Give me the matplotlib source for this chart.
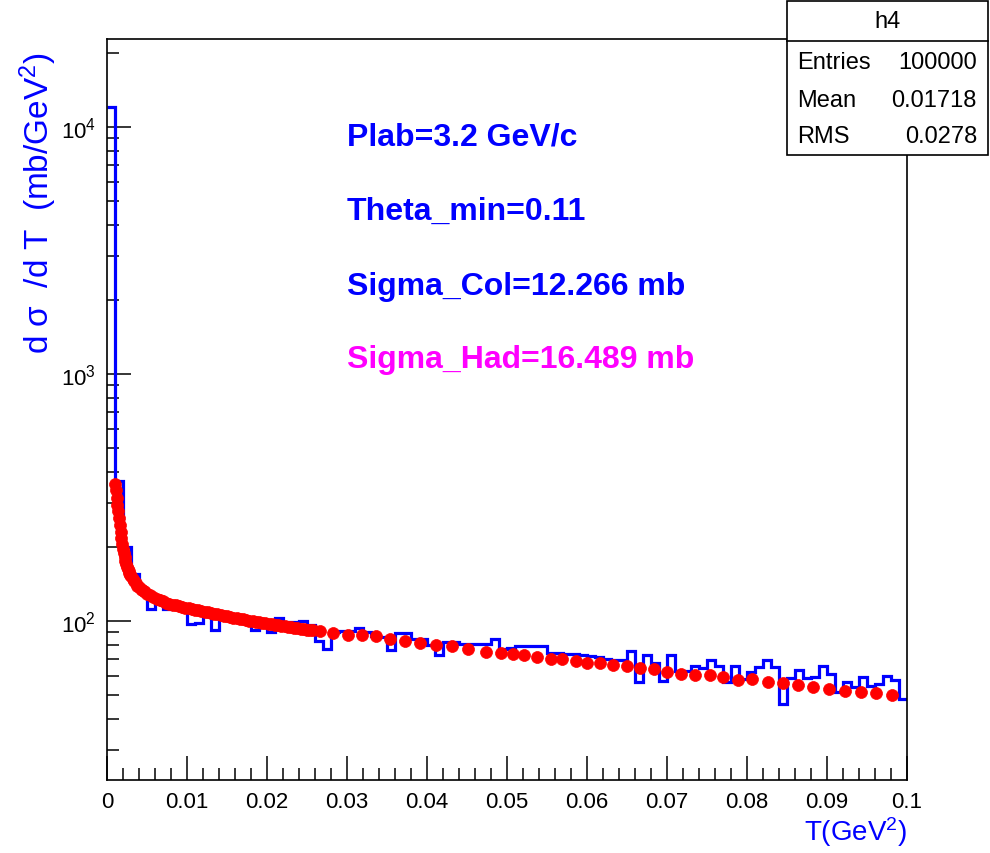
import matplotlib
matplotlib.use('Agg')
import matplotlib.pyplot as plt
import numpy as np
from matplotlib.patches import Rectangle
from matplotlib.lines import Line2D
from matplotlib.ticker import LogLocator, MultipleLocator, LogFormatterMathtext, FixedLocator, FixedFormatter, NullFormatter

plt.rcParams['font.family'] = ['Liberation Sans', 'DejaVu Sans']
plt.rcParams['mathtext.fontset'] = 'custom'
plt.rcParams['mathtext.rm'] = 'Liberation Sans'
plt.rcParams['mathtext.it'] = 'Liberation Sans'
plt.rcParams['mathtext.bf'] = 'Liberation Sans:bold'
plt.rcParams['mathtext.default'] = 'regular'

# ---------------- data ----------------
x_min, x_max, n_bins = 0.0, 0.1, 100

hist_counts = [
    12000, 370, 199, 155, 133, 112, 122, 112, 118, 115,
    97, 98, 108, 91.5, 106, 104, 102, 103, 92, 100,
    90, 103, 99, 99, 100, 96, 83, 77, 90, 91,
    91, 94, 90, 87, 86, 76.5, 89, 89, 84.6, 84.6,
    80, 72.5, 82, 82, 81, 80.5, 80.5, 80.5, 84.3, 77,
    77.5, 79, 79, 79, 79, 74, 74, 73.5, 73.5, 73,
    72.4, 71.3, 70.2, 69.5, 69.5, 75.5, 56.5, 72.6, 67.5, 57.3,
    72.6, 62.9, 62.9, 65.6, 64.5, 69.7, 65.9, 56.5, 65.9, 58.2,
    62.0, 64.9, 69.7, 64.9, 46.1, 58.6, 63.5, 58.6, 59.2, 65.9,
    61.0, 51.4, 56.5, 53.9, 59.2, 54.7, 55.6, 60.1, 57.8, 48.3,
]

curve_t = [
    0.0010, 0.0011, 0.0012, 0.0013, 0.0014, 0.0015, 0.0016, 0.0017, 0.0018, 0.0019,
    0.0020, 0.0021, 0.0022, 0.0023, 0.0024, 0.0025, 0.0026, 0.0027, 0.0028, 0.0029,
    0.0030, 0.0032, 0.0034, 0.0036, 0.0038, 0.0040, 0.0042, 0.0044, 0.0046, 0.0048,
    0.0050, 0.0054, 0.0058, 0.0062, 0.0066, 0.0070, 0.0074, 0.0078, 0.0082, 0.0086,
    0.0090, 0.0094, 0.0098, 0.0102, 0.0106, 0.0110, 0.0114, 0.0118, 0.0122, 0.0126,
    0.0130, 0.0134, 0.0138, 0.0142, 0.0146, 0.0150, 0.0154, 0.0158, 0.0162, 0.0166,
    0.0170, 0.0174, 0.0178, 0.0182, 0.0186, 0.0190, 0.0194, 0.0198, 0.0202, 0.0206,
    0.0210, 0.0214, 0.0218, 0.0222, 0.0226, 0.0230, 0.0234, 0.0238, 0.0242, 0.0246,
    0.0250, 0.0254, 0.0258,
    0.0266, 0.0283, 0.0301, 0.0319, 0.0336, 0.0354, 0.0373, 0.0391, 0.0411, 0.0431,
    0.0451, 0.0474, 0.0493, 0.0508, 0.0521, 0.0538, 0.0555, 0.0569, 0.0586, 0.0600,
    0.0616, 0.0633, 0.0650, 0.0666, 0.0684, 0.0700, 0.0717, 0.0735, 0.0754, 0.0770,
    0.0789, 0.0806, 0.0826, 0.0845, 0.0864, 0.0883, 0.0903, 0.0923, 0.0943, 0.0961,
    0.0981,
]
curve_val = [
    360, 340, 315, 295, 278, 260, 245, 230, 217, 205,
    196, 188, 181, 175, 170, 166, 162, 159, 156, 154,
    152, 148, 145, 142, 139, 137, 135, 133.5, 132, 130.5,
    129, 127, 125, 123, 121, 120, 118.5, 117.5, 116.5, 115.5,
    114.5, 113.8, 113, 112.3, 111.6, 111, 110.3, 109.6, 109, 108.3,
    107.6, 107, 106.3, 105.7, 105, 104.4, 103.8, 103.2, 102.6, 102,
    101.4, 100.8, 100.3, 99.8, 99.3, 98.8, 98.3, 97.8, 97.3, 96.8,
    96.3, 95.9, 95.5, 95.1, 94.7, 94.3, 93.9, 93.5, 93.1, 92.7,
    92.3, 92.0, 91.6,
    91.0, 89.6, 87.5, 87.5, 86.5, 84.6, 82.8, 81.3, 79.6, 78.8,
    77.1, 75.2, 74.2, 73.8, 72.8, 71.7, 70.4, 70.0, 68.9, 67.8,
    67.3, 66.4, 65.6, 64.4, 63.8, 62.4, 61.0, 60.5, 60.2, 59.1,
    57.9, 58.0, 56.8, 56.0, 55.1, 54.2, 53.1, 51.8, 51.5, 51.1,
    50.0,
]

x_tick_values = [0, 0.01, 0.02, 0.03, 0.04, 0.05, 0.06, 0.07, 0.08, 0.09, 0.1]
x_tick_labels = ['0', '0.01', '0.02', '0.03', '0.04', '0.05', '0.06', '0.07', '0.08', '0.09', '0.1']

info_lines = ['Plab=3.2 GeV/c', 'Theta_min=0.11', 'Sigma_Col=12.266 mb', 'Sigma_Had=16.489 mb']
info_colors = ['#0000ff', '#0000ff', '#0000ff', '#ff00ff']

stats_title = 'h4'
stats_names = ['Entries', 'Mean', 'RMS']
stats_values = ['100000', '0.01718', '0.0278']

# ---------------- figure ----------------
W, H = 990, 854
fig = plt.figure(figsize=(W / 100, H / 100), dpi=100)
fig.patch.set_facecolor('white')

def fx(px):
    return px / W

def fy(py):
    return 1 - py / H

ax_l, ax_r, ax_t, ax_b = 107, 907, 40, 781
ax = fig.add_axes([fx(ax_l), fy(ax_b), (ax_r - ax_l) / W, (ax_b - ax_t) / H])

edges = np.linspace(x_min, x_max, n_bins + 1)
ax.stairs(hist_counts, edges, color='#0000ff', lw=2.3, baseline=None, zorder=2)
ax.plot(curve_t, curve_val, ls='none', marker='o', ms=8.6, color='#ff0000',
        mec='#ff0000', mew=0.5, zorder=3)

ax.set_xlim(x_min, x_max)
ax.set_yscale('log')
ax.set_ylim(22.7, 22700)

ax.xaxis.set_major_locator(FixedLocator(x_tick_values))
ax.xaxis.set_major_formatter(FixedFormatter(x_tick_labels))
ax.xaxis.set_minor_locator(MultipleLocator(0.002))
ax.yaxis.set_major_locator(LogLocator(base=10))
ax.yaxis.set_major_formatter(LogFormatterMathtext(base=10))
ax.yaxis.set_minor_locator(LogLocator(base=10, subs=np.arange(2, 10)))
ax.yaxis.set_minor_formatter(NullFormatter())

ax.tick_params(which='both', direction='in', top=False, right=False, width=1.1, colors='black')
ax.tick_params(axis='x', which='major', length=17, pad=8, labelsize=16)
ax.tick_params(axis='x', which='minor', length=9)
ax.tick_params(axis='y', which='major', length=17, pad=8, labelsize=16)
ax.tick_params(axis='y', which='minor', length=8.5)
for s in ax.spines.values():
    s.set_linewidth(1.2)

# info texts
info_y = [138, 212, 287, 360]
for txt, col, yy in zip(info_lines, info_colors, info_y):
    fig.text(fx(347), fy(yy), txt, color=col, fontsize=23, fontweight='bold',
             ha='left', va='center')

# axis titles
fig.text(fx(38), fy(203), 'd σ  /d T  (mb/GeV$^{2}$)', rotation=90, color='#0000ff',
         fontsize=24, ha='center', va='center')
fig.text(fx(907), fy(832), 'T(GeV$^{2}$)', color='#0000ff', fontsize=20,
         ha='right', va='center')

# stats box
bx0, bx1, by0, by1 = 787, 988, 2, 156
fig.add_artist(Rectangle((fx(bx0), fy(by1)), (bx1 - bx0) / W, (by1 - by0) / H,
                         transform=fig.transFigure, facecolor='white', edgecolor='black',
                         lw=1.2, zorder=10))
fig.add_artist(Line2D([fx(bx0), fx(bx1)], [fy(42), fy(42)], transform=fig.transFigure,
                      color='black', lw=1.2, zorder=11))
fig.text(fx((bx0 + bx1) / 2), fy(22), stats_title, fontsize=17, ha='center', va='center', zorder=12)
row_y = [63, 101, 137]
for nm, val, yy in zip(stats_names, stats_values, row_y):
    fig.text(fx(797), fy(yy), nm, fontsize=17, ha='left', va='center', zorder=12)
    fig.text(fx(977), fy(yy), val, fontsize=17, ha='right', va='center', zorder=12)

fig.savefig('out.png', dpi=100, facecolor='white')
